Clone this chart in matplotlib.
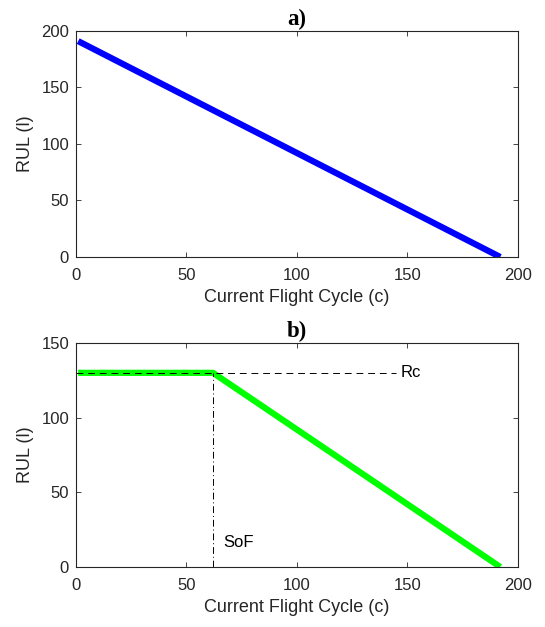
import matplotlib
matplotlib.use("Agg")
import matplotlib.pyplot as plt

# Data
cycles_a = [1, 192]
rul_a = [191, 0]

cycles_b = [1, 62, 192]
rul_b = [130, 130, 0]

rc_value = 130
rc_x = [0, 145]
sof_cycle = 62

xticks = [0, 50, 100, 150, 200]
yticks_a = [0, 50, 100, 150, 200]
yticks_b = [0, 50, 100, 150]

plt.rcParams['font.family'] = ['Liberation Sans', 'DejaVu Sans']
tick_color = '#262626'
spine_color = '#262626'

fig = plt.figure(figsize=(5.45, 6.27), dpi=100)
ax1 = fig.add_axes([0.1394, 0.5901, 0.811, 0.3605])
ax2 = fig.add_axes([0.1394, 0.0957, 0.811, 0.3573])

def style(ax):
    ax.tick_params(direction='in', length=3.5, width=0.6, top=True, right=True,
                   labelsize=12, colors=tick_color, pad=5)
    ax.tick_params(axis='x', top=True, labeltop=False, pad=8)
    for s in ax.spines.values():
        s.set_color(spine_color)
        s.set_linewidth(0.8)
    ax.set_xticks(xticks)
    ax.set_xlim(0, 200)

# Top
ax1.plot(cycles_a, rul_a, color='#0000ff', linewidth=4.5, solid_capstyle='butt')
ax1.set_ylim(0, 200)
ax1.set_yticks(yticks_a)
style(ax1)
ax1.set_xlabel('Current Flight Cycle (c)', fontsize=13, color=tick_color, labelpad=4)
ax1.set_ylabel('RUL (l)', fontsize=13, color=tick_color, labelpad=5)
ax1.set_title('a)', fontsize=16.5, fontweight='bold', family='Liberation Serif', pad=4)

# Bottom
ax2.plot(cycles_b, rul_b, color='#00ff00', linewidth=4.5, solid_capstyle='butt')
ax2.plot(rc_x, [rc_value, rc_value], color='black', linestyle=(0, (7, 5)), linewidth=0.7)
ax2.plot([sof_cycle, sof_cycle], [0, rc_value], color='black', linestyle=(0, (7, 3, 1, 3)), linewidth=0.7)
ax2.text(147, rc_value, 'Rc', fontsize=12, va='center', ha='left', color='black')
ax2.text(66.5, 16.5, 'SoF', fontsize=12, va='center', ha='left', color='black')
ax2.set_ylim(0, 150)
ax2.set_yticks(yticks_b)
style(ax2)
ax2.set_xlabel('Current Flight Cycle (c)', fontsize=13, color=tick_color, labelpad=4)
ax2.set_ylabel('RUL (l)', fontsize=13, color=tick_color, labelpad=5)
ax2.set_title('b)', fontsize=16.5, fontweight='bold', family='Liberation Serif', pad=4)

fig.savefig('out.png', dpi=100)
